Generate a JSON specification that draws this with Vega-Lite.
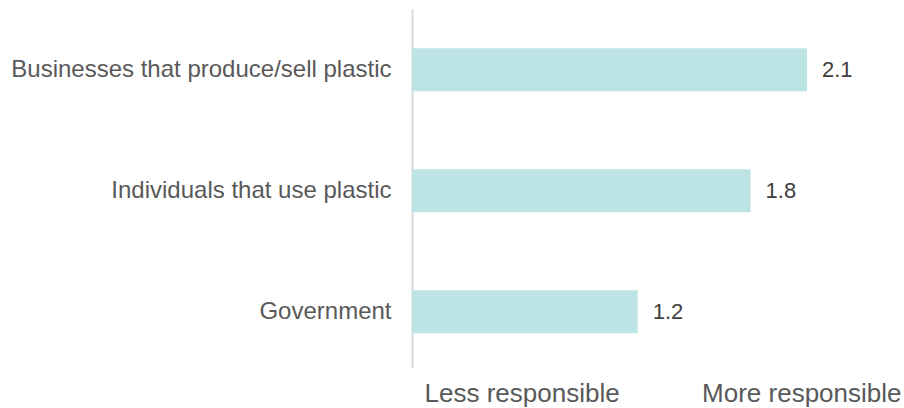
{
  "$schema": "https://vega.github.io/schema/vega-lite/v6.json",
  "autosize": {"type": "none"},
  "padding": {"left": 412, "top": 9, "right": 3, "bottom": 40},
  "width": 489,
  "height": 359,
  "background": "white",
  "config": {"view": {"stroke": null}, "font": "Liberation Sans"},
  "data": {
    "values": [
      {"group": "Businesses that produce/sell plastic", "score": 2.1},
      {"group": "Individuals that use plastic", "score": 1.8},
      {"group": "Government", "score": 1.2}
    ]
  },
  "encoding": {
    "y": {
      "field": "group",
      "type": "nominal",
      "sort": null,
      "scale": {"paddingInner": 0.645, "paddingOuter": 0.306, "align": 0.53},
      "axis": {
        "title": null,
        "ticks": false,
        "domainColor": "#d9d9d9",
        "domainWidth": 2,
        "labelFontSize": 24,
        "labelColor": "#595959",
        "labelPadding": 21,
        "labelLimit": 500
      }
    },
    "x": {
      "field": "score",
      "type": "quantitative",
      "scale": {"domain": [0, 2.6], "nice": false},
      "axis": {
        "title": null,
        "grid": false,
        "domain": false,
        "ticks": false,
        "values": [0.064, 2.6],
        "labelExpr": "datum.value < 1 ? 'Less responsible' : 'More responsible'",
        "labelAlign": {"expr": "datum.value < 1 ? 'left' : 'right'"},
        "labelBaseline": "alphabetic",
        "labelPadding": 33,
        "labelFontSize": 26,
        "labelColor": "#595959",
        "labelFlush": false,
        "labelOverlap": false,
        "labelLimit": 500
      }
    }
  },
  "layer": [
    {"mark": {"type": "bar", "color": "#bde4e4"}},
    {
      "mark": {"type": "text", "align": "left", "baseline": "middle", "dx": 15, "fontSize": 22, "color": "#404040"},
      "encoding": {"text": {"field": "score", "type": "quantitative", "format": ".1f"}}
    }
  ]
}
